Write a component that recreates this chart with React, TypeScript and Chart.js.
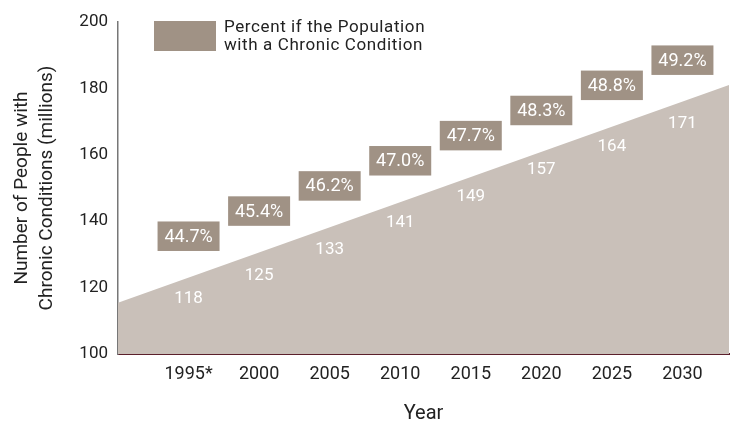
import React, { useEffect, useRef } from "react";
import { Chart, registerables } from "chart.js";

Chart.register(...registerables);

// Categories (years) and tick labels
const years = [1995, 2000, 2005, 2010, 2015, 2020, 2025, 2030];
const tickLabels = ["1995*", "2000", "2005", "2010", "2015", "2020", "2025", "2030"];
// Number of people with chronic conditions (millions)
const peopleValues = [118, 125, 133, 141, 149, 157, 164, 171];
// Percent of population with a chronic condition
const percentValues = ["44.7%", "45.4%", "46.2%", "47.0%", "47.7%", "48.3%", "48.8%", "49.2%"];
// Shaded area boundary (trend band drawn across the plot)
const areaYears = [1990, 2033.3];
const areaValues = [115.4, 181.0];

const legendLines = ["Percent if the Population", "with a Chronic Condition"];
const yTitle = ["Number of People with", "Chronic Conditions (millions)"];
const xTitle = "Year";

const FONT = "Roboto, 'Liberation Sans', Arial, sans-serif";
const AREA_COLOR = "#c9c0b9";
const BOX_COLOR = "#a09285";
const TEXT_COLOR = "#222222";

const labelPlugin = {
  id: "labelPlugin",
  afterDatasetsDraw(chart: any) {
    const { ctx, scales } = chart;
    const xs = scales.x;
    const ys = scales.y;
    const lineAt = (yr: number) => {
      const t = (yr - areaYears[0]) / (areaYears[1] - areaYears[0]);
      return areaValues[0] + t * (areaValues[1] - areaValues[0]);
    };
    ctx.save();
    ctx.textAlign = "center";
    ctx.textBaseline = "middle";
    years.forEach((yr, i) => {
      const x = xs.getPixelForValue(yr);
      // value label inside area
      const vy = ys.getPixelForValue(peopleValues[i]) + 5;
      ctx.fillStyle = "#ffffff";
      ctx.font = `17px ${FONT}`;
      ctx.fillText(String(peopleValues[i]), x, vy);
      // percent box above the area edge
      const ly = ys.getPixelForValue(lineAt(yr)) - 41.5;
      const w = 62, h = 29.5;
      ctx.fillStyle = BOX_COLOR;
      ctx.fillRect(x - w / 2, ly - h / 2, w, h);
      ctx.fillStyle = "#ffffff";
      ctx.font = `18px ${FONT}`;
      ctx.fillText(percentValues[i], x, ly + 1);
    });
    // legend
    ctx.fillStyle = BOX_COLOR;
    ctx.fillRect(154, 21, 62, 30);
    ctx.fillStyle = TEXT_COLOR;
    ctx.textAlign = "left";
    ctx.font = `17px ${FONT}`;
    try {
      (ctx as any).letterSpacing = "0.6px";
    } catch (e) {}
    ctx.fillText(legendLines[0], 224, 28);
    ctx.fillText(legendLines[1], 224, 46);
    ctx.restore();
  },
};

export default function App() {
  const ref = useRef<HTMLCanvasElement>(null);
  useEffect(() => {
    document.body.style.margin = "0";
    const canvas = ref.current!;
    const chart = new Chart(canvas, {
      type: "line",
      data: {
        datasets: [
          {
            label: "area",
            data: areaYears.map((x, i) => ({ x, y: areaValues[i] })),
            backgroundColor: AREA_COLOR,
            borderWidth: 0,
            pointRadius: 0,
            fill: "start",
            tension: 0,
          },
        ],
      },
      options: {
        responsive: false,
        animation: false,
        layout: { padding: { top: 22, right: 2, left: 0, bottom: 0 } },
        plugins: { legend: { display: false }, tooltip: { enabled: false } },
        scales: {
          x: {
            type: "linear",
            min: 1990,
            max: 2033.3,
            grid: { display: false, drawTicks: false },
            border: { display: true, color: "#5b1f2b", width: 2 },
            afterBuildTicks: (s: any) => {
              s.ticks = years.map((v) => ({ value: v }));
            },
            afterFit: (s: any) => {
              s.height = 69;
            },
            ticks: {
              padding: 10,
              autoSkip: false,
              maxRotation: 0,
              color: TEXT_COLOR,
              font: { family: FONT, size: 18 },
              callback: (v: any) => tickLabels[years.indexOf(Number(v))] ?? "",
            },
            title: {
              display: true,
              text: xTitle,
              color: TEXT_COLOR,
              font: { family: FONT, size: 20, lineHeight: 0.9 },
              padding: { top: 0, bottom: 0 },
            },
          },
          y: {
            min: 100,
            max: 200,
            grid: { display: false, drawTicks: false },
            border: { display: true, color: "#777777", width: 1.5 },
            afterFit: (s: any) => {
              s.width = 118;
            },
            ticks: {
              stepSize: 20,
              padding: 10,
              color: TEXT_COLOR,
              font: { family: FONT, size: 17 },
            },
            title: {
              display: true,
              text: yTitle,
              color: TEXT_COLOR,
              font: { family: FONT, size: 19, lineHeight: 1.32 },
              padding: { top: 10, bottom: 0 },
            },
          },
        },
      },
      plugins: [labelPlugin],
    });
    return () => chart.destroy();
  }, []);
  return (
    <canvas ref={ref} width={731} height={423} style={{ display: "block", width: 731, height: 423 }} />
  );
}
